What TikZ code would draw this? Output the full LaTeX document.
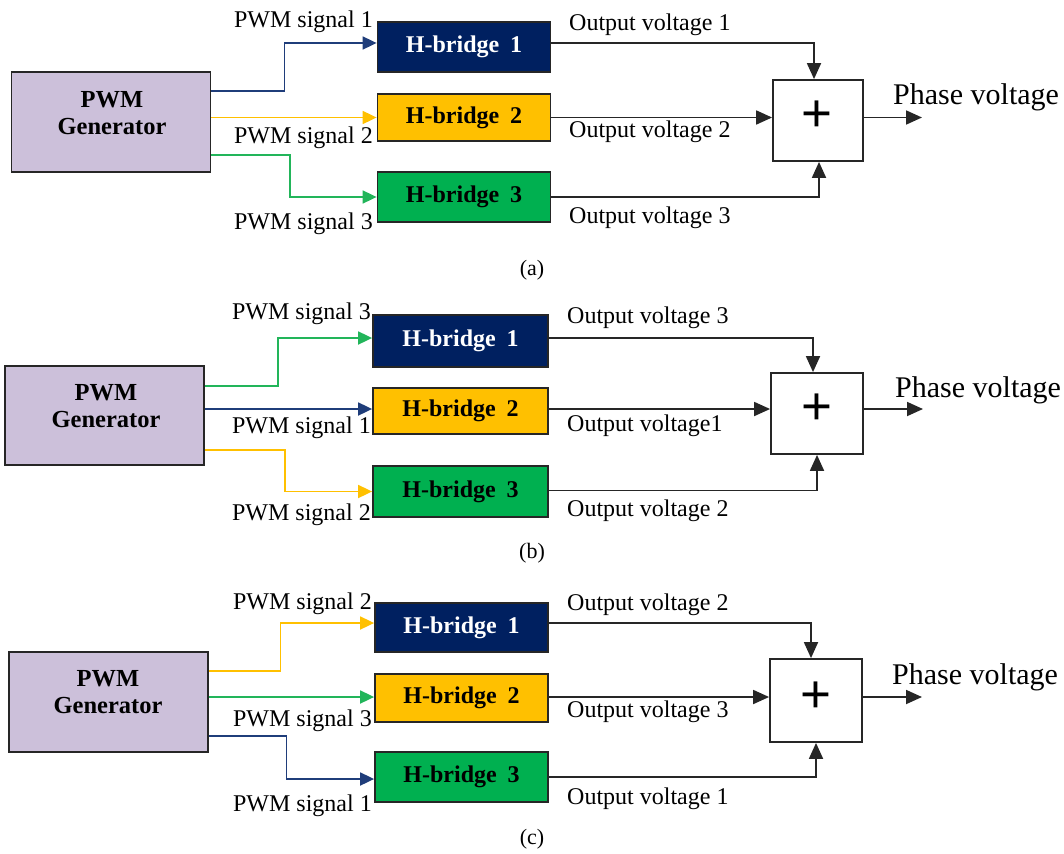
\documentclass[tikz,border=0pt]{standalone}
\usepackage{fontspec}
\setmainfont{Liberation Serif}
\newfontfamily\plusfont{Liberation Sans}
\usetikzlibrary{arrows.meta,calc}
\definecolor{navy}{HTML}{002060}
\definecolor{navyline}{HTML}{1F3D7A}
\definecolor{gold}{HTML}{FFC000}
\definecolor{grn}{HTML}{00B050}
\definecolor{grnline}{HTML}{22B55A}
\definecolor{lav}{HTML}{CCC0DA}
\begin{document}
\begin{tikzpicture}[x=1pt,y=-1pt,
 gen/.style={draw=black!85,line width=1.8pt,fill=lav,minimum width=199pt,minimum height=100pt,inner sep=0pt},
 gentext/.style={font=\fontsize{24.5}{27}\selectfont\bfseries,align=center,inner sep=0pt},
 hb/.style={draw=black!85,line width=1.8pt,minimum width=173pt,inner sep=0pt,font=\fontsize{24}{27}\selectfont\bfseries},
 hbnavy/.style={hb,fill=navy,text=white},
 hbgold/.style={hb,fill=gold},
 hbgreen/.style={hb,fill=grn},
 sumbox/.style={draw=black!85,line width=1.8pt,fill=white,minimum width=91pt,minimum height=82pt,inner sep=0pt},
 plus/.style={font=\plusfont\fontsize{53}{53}\selectfont,inner sep=0pt},
 lbl/.style={font=\fontsize{24}{27}\selectfont,inner sep=0pt},
 phase/.style={font=\fontsize{30}{33}\selectfont,inner sep=0pt},
 captext/.style={font=\fontsize{22}{24}\selectfont,inner sep=0pt},
 sig/.style={line width=1.8pt,-{Triangle[length=14pt,width=13pt]}},
 outl/.style={line width=1.8pt,draw=black!85,-{Triangle[length=16pt,width=14pt]}},
]
\useasboundingbox (0,0) rectangle (1064,853);

% ---------------- panel (a) ----------------
\node[gen] (genA) at (111,122) {};
\node[gentext] (genAt) at (112,113) {PWM\\Generator};
\node[hbnavy,minimum height=50pt] (h1A) at (464,47) {H-bridge\hspace{.45em}1};
\node[hbgold,minimum height=47pt] (h2A) at (464,117.5) {H-bridge\hspace{.45em}2};
\node[hbgreen,minimum height=50pt] (h3A) at (464,197) {H-bridge\hspace{.45em}3};
\node[sumbox,minimum width=90pt,minimum height=81pt] (sA) at (818,120.5) {};
\node[plus] (pA) at (817,116) {+};
\coordinate (phA) at (922,117.5);

\draw[sig,navyline] ([yshift=-20pt]genA.north east) -- ++(73,0) |- ([yshift=4pt]h1A.west);
\draw[sig,gold] (genA.east |- h2A.west) -- (h2A.west);
\draw[sig,grnline] ([yshift=-84pt]genA.north east) -- ++(78.5,0) |- (h3A.west);
\draw[outl] ([yshift=4pt]h1A.east) -| ([xshift=-4pt]sA.north);
\draw[outl] (h2A.east) -- (sA.west |- h2A.east);
\draw[outl] (h3A.east) -| ([xshift=1pt]sA.south);
\draw[outl] (sA.east |- phA) -- (phA);

\node[lbl,anchor=east] (l1A) at (373,22) {PWM signal 1};
\node[lbl,anchor=east] (l2A) at (373,138) {PWM signal 2};
\node[lbl,anchor=east] (l3A) at (373,224) {PWM signal 3};
\node[lbl,anchor=west] (o1A) at (569,25) {Output voltage 1};
\node[lbl,anchor=west] (o2A) at (569,132) {Output voltage 2};
\node[lbl,anchor=west] (o3A) at (569,218) {Output voltage 3};
\node[phase,anchor=west] (pvA) at (893,97) {Phase voltage};
\node[captext] (capA) at (532,270) {(a)};

% ---------------- panel (b) ----------------
\node[gen,minimum height=99pt] (genB) at (104.5,415.5) {};
\node[gentext] (genBt) at (106,406) {PWM\\Generator};
\node[hbnavy,minimum width=175pt,minimum height=52pt] (h1B) at (460.5,341) {H-bridge\hspace{.45em}1};
\node[hbgold,minimum width=175pt,minimum height=46pt] (h2B) at (460.5,411) {H-bridge\hspace{.45em}2};
\node[hbgreen,minimum width=175pt,minimum height=51pt] (h3B) at (460.5,491.5) {H-bridge\hspace{.45em}3};
\node[sumbox,minimum width=92pt,minimum height=81pt] (sB) at (817,413.5) {};
\node[plus] (pB) at (817,409) {+};
\coordinate (phB) at (923,409);

\draw[sig,grnline] ([yshift=-20.5pt]genB.north east) -- ++(73,0) |- ([yshift=3pt]h1B.west);
\draw[sig,navyline] ([yshift=2pt]genB.east |- h2B.west) -- ([yshift=2pt]h2B.west);
\draw[sig,gold] ([yshift=-84.5pt]genB.north east) -- ++(80,0) |- (h3B.west);
\draw[outl] ([yshift=3pt]h1B.east) -| ([xshift=-4pt]sB.north);
\draw[outl] ([yshift=2pt]h2B.east) coordinate (o2B) -- (sB.west |- o2B);
\draw[outl] ([yshift=1pt]h3B.east) -| (sB.south);
\draw[outl] (sB.east |- phB) -- (phB);

\node[lbl,anchor=east] (l1B) at (371,314) {PWM signal 3};
\node[lbl,anchor=east] (l2B) at (371,428) {PWM signal 1};
\node[lbl,anchor=east] (l3B) at (371,515) {PWM signal 2};
\node[lbl,anchor=west] (o1B) at (567,318) {Output voltage 3};
\node[lbl,anchor=west] (o2Bl) at (567,426) {Output voltage1};
\node[lbl,anchor=west] (o3B) at (567,511) {Output voltage 2};
\node[phase,anchor=west] (pvB) at (895,390) {Phase voltage};
\node[captext] (capB) at (532,553) {(b)};

% ---------------- panel (c) ----------------
\node[gen] (genC) at (108.5,702) {};
\node[gentext] (genCt) at (108,692.5) {PWM\\Generator};
\node[hbnavy,minimum height=49pt] (h1C) at (461.5,627.5) {H-bridge\hspace{.45em}1};
\node[hbgold,minimum height=48pt] (h2C) at (461.5,698) {H-bridge\hspace{.45em}2};
\node[hbgreen,minimum height=50pt] (h3C) at (461.5,777) {H-bridge\hspace{.45em}3};
\node[sumbox,minimum width=92pt,minimum height=83pt] (sC) at (816,700.5) {};
\node[plus] (pC) at (816,697) {+};
\coordinate (phC) at (922,697);

\draw[sig,gold] ([yshift=-20pt]genC.north east) -- ++(71.5,0) |- ([yshift=4.5pt]h1C.west);
\draw[sig,grnline] ([yshift=1pt]genC.east |- h2C.west) -- ([yshift=1pt]h2C.west);
\draw[sig,navyline] ([yshift=-85pt]genC.north east) -- ++(77.5,0) |- ([yshift=-2pt]h3C.west);
\draw[outl] ([yshift=4.5pt]h1C.east) -| ([xshift=-5pt]sC.north);
\draw[outl] ([yshift=1pt]h2C.east) coordinate (o2C) -- (sC.west |- o2C);
\draw[outl] (h3C.east) -| (sC.south);
\draw[outl] (sC.east |- phC) -- (phC);

\node[lbl,anchor=east] (l1C) at (372,604) {PWM signal 2};
\node[lbl,anchor=east] (l2C) at (372,721) {PWM signal 3};
\node[lbl,anchor=east] (l3C) at (372,806) {PWM signal 1};
\node[lbl,anchor=west] (o1C) at (567,605) {Output voltage 2};
\node[lbl,anchor=west] (o2Cl) at (567,712) {Output voltage 3};
\node[lbl,anchor=west] (o3C) at (567,799) {Output voltage 1};
\node[phase,anchor=west] (pvC) at (892,677) {Phase voltage};
\node[captext] (capC) at (532,839) {(c)};
\end{tikzpicture}
\end{document}
